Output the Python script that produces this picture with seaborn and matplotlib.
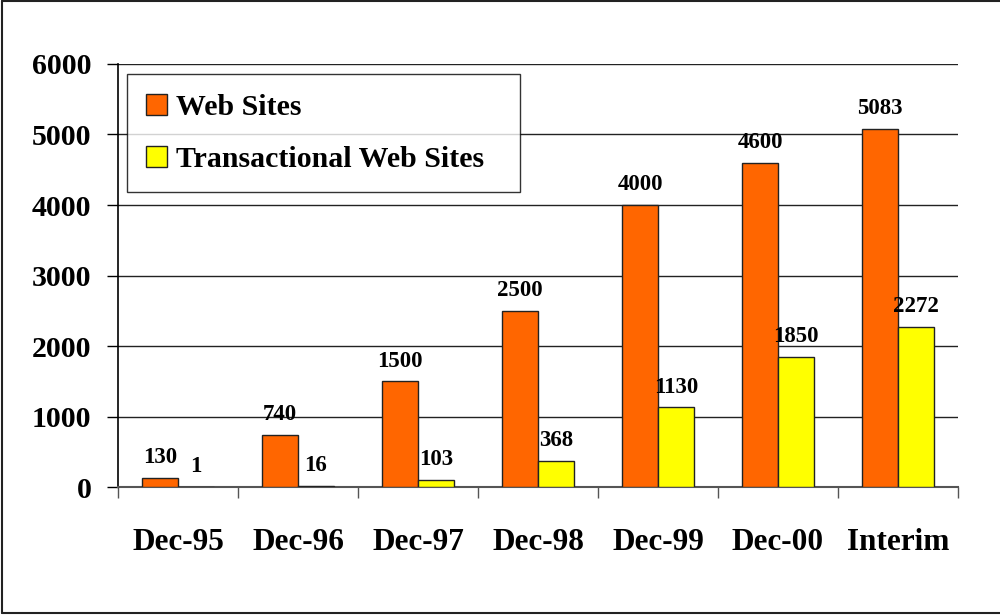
import pandas as pd
import matplotlib.pyplot as plt
import seaborn as sns
from matplotlib.lines import Line2D
from matplotlib.ticker import FixedLocator

# ---------- Data ----------
periods = ["Dec-95", "Dec-96", "Dec-97", "Dec-98", "Dec-99", "Dec-00", "Interim"]
web_sites = [130, 740, 1500, 2500, 4000, 4600, 5083]
transactional_sites = [1, 16, 103, 368, 1130, 1850, 2272]
series_names = ["Web Sites", "Transactional Web Sites"]
colors = ["#FF6600", "#FFFF00"]

df = pd.DataFrame({
    "period": periods * 2,
    "value": web_sites + transactional_sites,
    "series": [series_names[0]] * len(periods) + [series_names[1]] * len(periods),
})

# ---------- Plot ----------
sns.set_style("white")
plt.rcParams["font.family"] = ["Liberation Serif", "DejaVu Serif"]
plt.rcParams["font.weight"] = "bold"
plt.rcParams["text.color"] = "black"
plt.rcParams["xtick.labelcolor"] = "black"
plt.rcParams["ytick.labelcolor"] = "black"

fig = plt.figure(figsize=(10, 6.15), dpi=100)
ax = fig.add_axes([0.118, 0.208, 0.840, 0.688])

sns.barplot(data=df, x="period", y="value", hue="series", order=periods,
            hue_order=series_names, palette=colors, width=0.6,
            edgecolor="#222222", linewidth=1.0, saturation=1, ax=ax, zorder=3)

for container in ax.containers:
    ax.bar_label(container, padding=7, fontsize=16.5, fontweight="bold", color="black")

ax.set_ylim(0, 6000)
ax.set_xlim(-0.5, len(periods) - 0.5)
ax.set_yticks(range(0, 6001, 1000))
ax.yaxis.grid(True, color="#222222", linewidth=1.0, zorder=0)
ax.set_axisbelow(True)
ax.set_xlabel("")
ax.set_ylabel("")

for side in ["top", "right"]:
    ax.spines[side].set_visible(False)
ax.spines["left"].set_color("black")
ax.spines["bottom"].set_color("#555555")
ax.spines["left"].set_linewidth(1.2)
ax.spines["bottom"].set_linewidth(1.5)

ax.tick_params(axis="y", which="major", left=True, length=8, width=1, color="black",
               labelsize=21.5, labelcolor="black", pad=11)
ax.tick_params(axis="x", which="major", bottom=False, labelsize=22.5,
               labelcolor="black", pad=26)
ax.xaxis.set_minor_locator(FixedLocator([i - 0.5 for i in range(len(periods) + 1)]))
ax.tick_params(axis="x", which="minor", bottom=True, length=8, width=1, color="#555555")
for lbl in ax.get_xticklabels() + ax.get_yticklabels():
    lbl.set_fontweight("bold")

leg = ax.legend(loc="upper left", bbox_to_anchor=(0.0107, 0.5, 0.468, 0.476),
                mode="expand", fontsize=21.5, frameon=True, fancybox=False,
                edgecolor="black", handlelength=0.7, handleheight=0.7,
                handletextpad=0.3, labelspacing=0.85, borderpad=0.65, borderaxespad=0)
leg.get_frame().set_linewidth(1.0)
for t in leg.get_texts():
    t.set_fontweight("bold")
    t.set_color("black")

# outer border of the figure
for xs, ys in [([0.002, 0.002], [0.003, 0.999]), ([0.002, 1.0], [0.999, 0.999]),
               ([0.002, 1.0], [0.003, 0.003])]:
    fig.add_artist(Line2D(xs, ys, transform=fig.transFigure, color="#222222", linewidth=1.5))

plt.savefig("out.png", dpi=100)
plt.close()
